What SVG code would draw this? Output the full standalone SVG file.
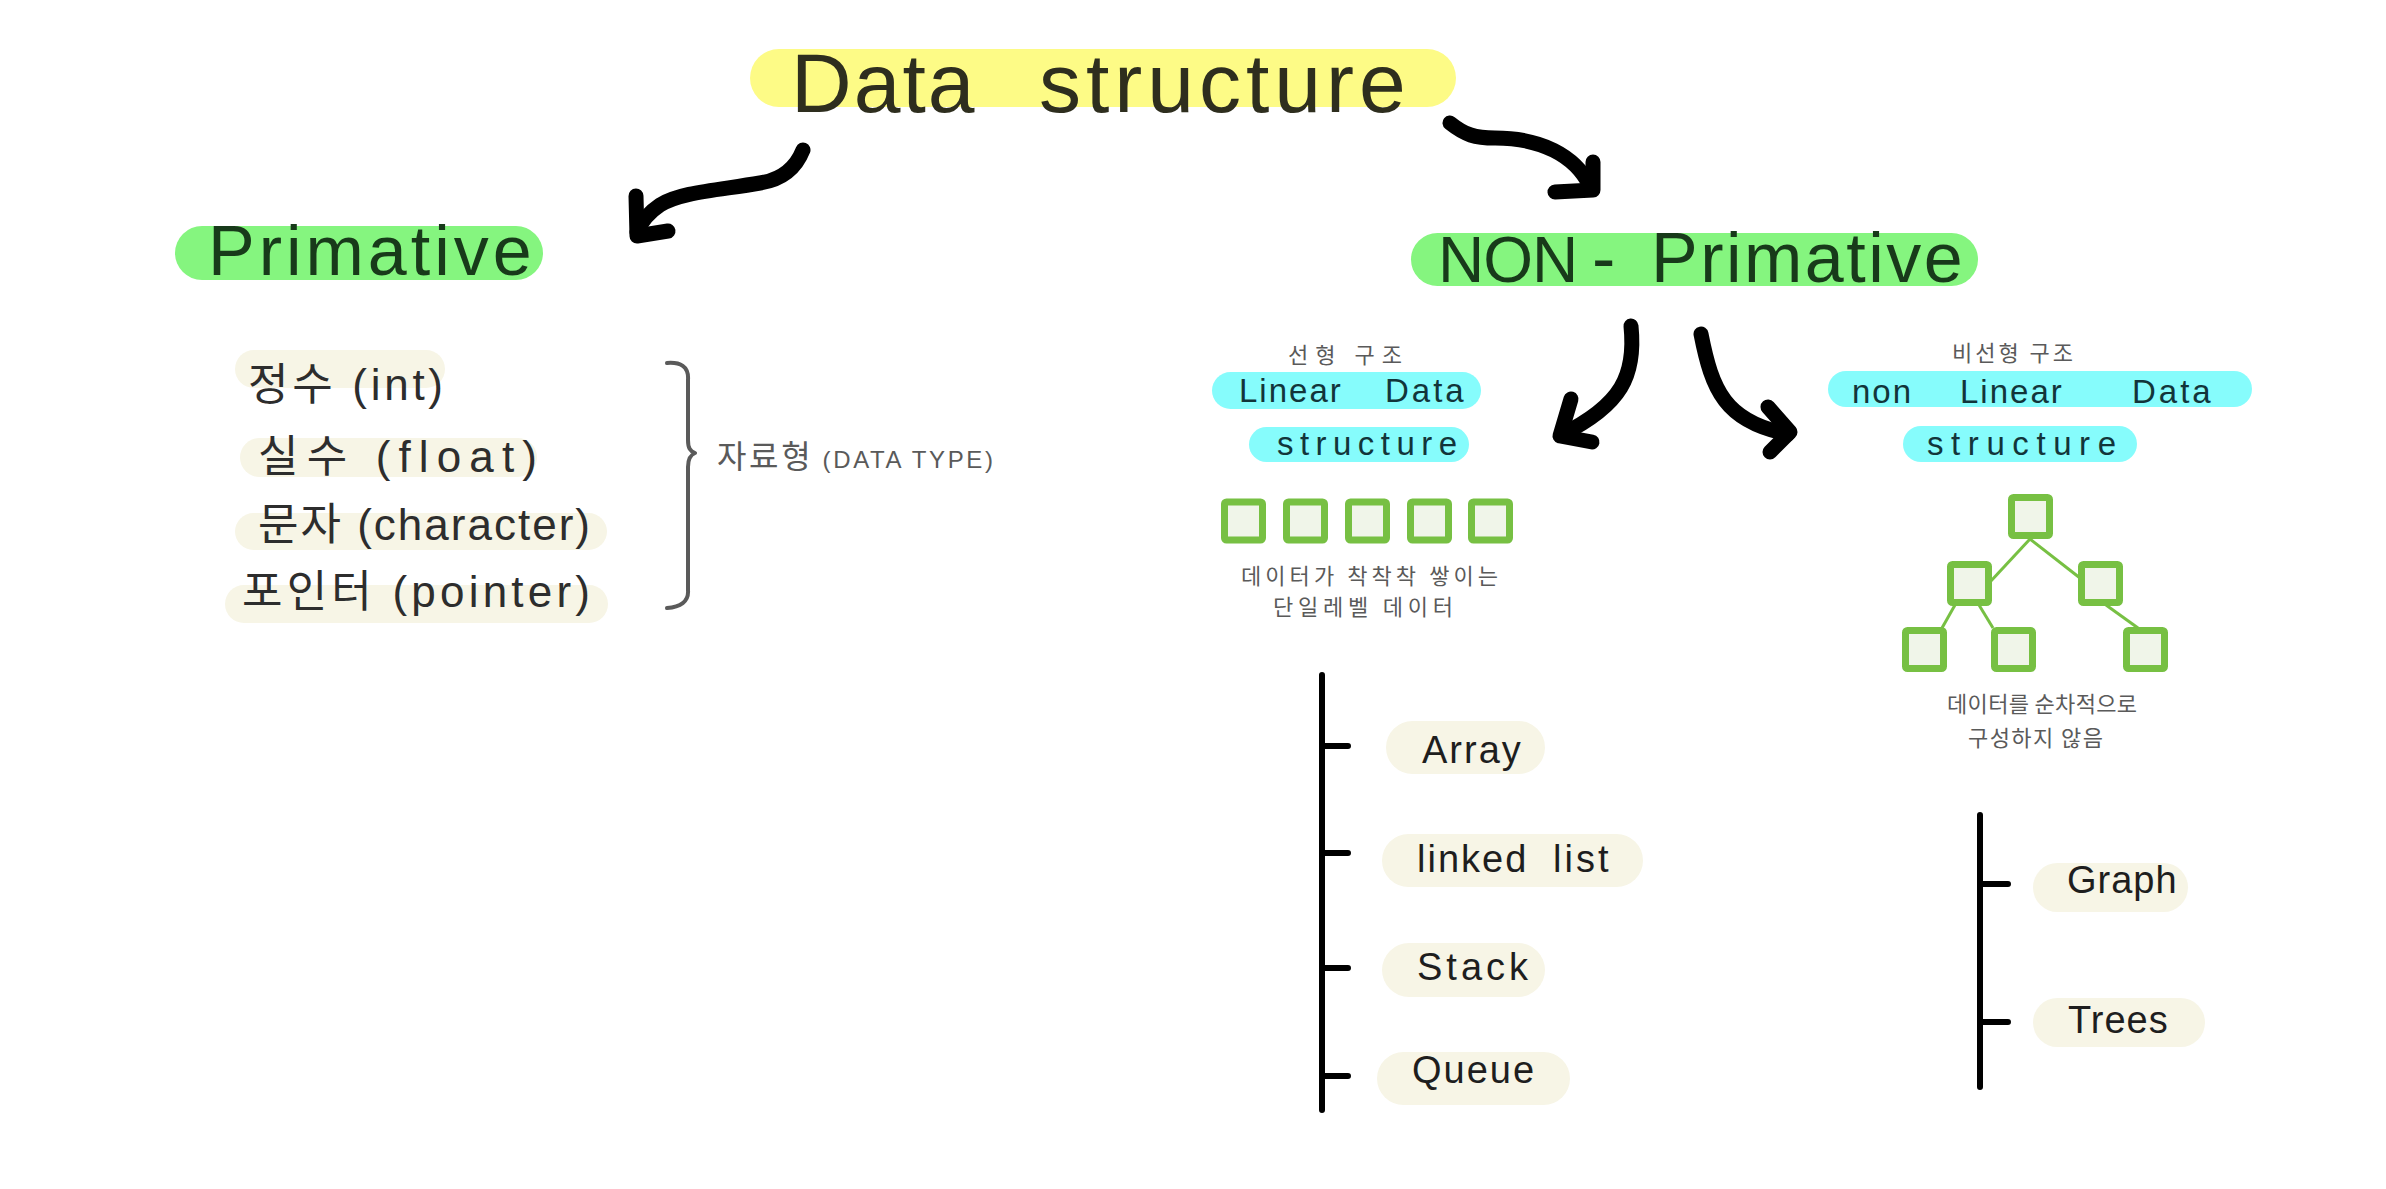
<svg xmlns="http://www.w3.org/2000/svg" width="2386" height="1189" viewBox="0 0 2386 1189">
<style>
.hand{font-family:"Liberation Sans","Noto Sans CJK KR",sans-serif;}
.kr{font-family:"Noto Sans CJK KR","Liberation Sans",sans-serif;}
.yellow{fill:#fdfb86;}
.green{fill:#85f57f;}
.cyan{fill:#86fcfc;}
.beige{fill:#f7f5e6;}
.t-title{fill:#2e2e1e;font-size:84px;}
.t-green{fill:#183a1a;font-size:70px;}
.t-cyan{fill:#12353a;font-size:33px;}
.t-item{fill:#1e1e1e;font-size:38px;}
.t-prim{fill:#2d2d2d;font-size:44px;}
.t-gray{fill:#5a5a5a;font-size:22px;}
.arrow{fill:none;stroke:#000;stroke-width:15;stroke-linecap:round;stroke-linejoin:round;}
.tree{fill:none;stroke:#000;stroke-width:6;stroke-linecap:round;}
.sq{fill:#f0f5e9;stroke:#77c043;stroke-width:7;}
.tl{stroke:#77c043;stroke-width:3;}
.brace{fill:none;stroke:#5a5a5a;stroke-width:4;stroke-linecap:round;stroke-linejoin:round;}
</style>

<g id="connectors">
  <path class="arrow" d="M803,150 C795,170 780,180 760,183 C720,190 680,192 660,205 C648,213 641,222 637,232"/>
  <path class="arrow" d="M636,196 L637,236 L668,231"/>
  <path class="arrow" d="M1450,123 C1465,135 1475,138 1495,138 C1540,138 1575,155 1590,186"/>
  <path class="arrow" d="M1593,162 L1593,190 L1555,192"/>
  <path class="arrow" d="M1631,326 C1636,375 1622,405 1561,435"/>
  <path class="arrow" d="M1571,399 L1560,436 L1592,442"/>
  <path class="arrow" d="M1701,334 C1712,390 1725,422 1788,434"/>
  <path class="arrow" d="M1768,407 L1790,432 L1770,452"/>
  <path class="brace" d="M667,363 C680,362 689,366 688,380 L688,440 C688,448 690,451 695,453 C690,455 688,459 688,467 L688,590 C689,602 680,607 667,608"/>
  <path class="tree" d="M1322,675 L1322,1110 M1322,746 L1348,746 M1322,853 L1348,853 M1322,968 L1348,968 M1322,1076 L1348,1076"/>
  <path class="tree" d="M1980,815 L1980,1087 M1980,884 L2008,884 M1980,1022 L2008,1022"/>
  <g id="tree-lines">
    <line class="tl" x1="2030" y1="539" x2="1990" y2="582"/>
    <line class="tl" x1="2030" y1="539" x2="2080" y2="578"/>
    <line class="tl" x1="1955" y1="605" x2="1942" y2="628"/>
    <line class="tl" x1="1979" y1="605" x2="1993" y2="628"/>
    <line class="tl" x1="2106" y1="605" x2="2138" y2="628"/>
  </g>
</g>

<g id="node-title">
  <rect class="yellow" x="750" y="49" width="706" height="58" rx="29"/>
  <text class="hand t-title" y="112"><tspan x="791" letter-spacing="2">Data</tspan><tspan x="1039" letter-spacing="5">structure</tspan></text>
</g>

<g id="node-primitive">
  <rect class="green" x="175" y="226" width="368" height="54" rx="27"/>
  <text class="hand t-green" x="208" y="275" letter-spacing="4">Primative</text>
</g>

<g id="node-non-primitive">
  <rect class="green" x="1411" y="233" width="567" height="53" rx="26.5"/>
  <text class="hand t-green" y="282"><tspan x="1438" font-size="64" letter-spacing="-1">NON</tspan><tspan x="1592">-</tspan><tspan x="1651" letter-spacing="2.5">Primative</tspan></text>
</g>

<g id="node-primitive-types">
  <rect class="beige" x="235" y="350" width="210" height="38" rx="19"/>
  <rect class="beige" x="240" y="438" width="297" height="39" rx="19.5"/>
  <rect class="beige" x="235" y="513" width="372" height="37" rx="18.5"/>
  <rect class="beige" x="225" y="585" width="383" height="38" rx="19"/>
  <text class="hand t-prim" x="248" y="400" textLength="195">정수 (int)</text>
  <text class="hand t-prim" x="258" y="472" textLength="279">실수 (float)</text>
  <text class="hand t-prim" x="258" y="540" textLength="332">문자 (character)</text>
  <text class="hand t-prim" x="242" y="607" textLength="348">포인터 (pointer)</text>
</g>

<g id="node-data-type">
  <text class="hand" x="717" y="468" fill="#5a5a5a" textLength="276"><tspan font-size="32">자료형</tspan><tspan font-size="24"> (DATA TYPE)</tspan></text>
</g>

<g id="node-linear">
  <text class="kr t-gray" x="1288" y="363" textLength="114">선형 구조</text>
  <rect class="cyan" x="1212" y="372" width="269" height="37" rx="18.5"/>
  <rect class="cyan" x="1249" y="427" width="220" height="35" rx="17.5"/>
  <text class="hand t-cyan" y="402"><tspan x="1239" letter-spacing="2">Linear</tspan><tspan x="1385" letter-spacing="3">Data</tspan></text>
  <text class="hand t-cyan" x="1277" y="455" font-size="36" textLength="180">structure</text>
  <rect class="sq" x="1224.5" y="502" width="38" height="38" rx="2"/>
  <rect class="sq" x="1286.5" y="502" width="38" height="38" rx="2"/>
  <rect class="sq" x="1348.5" y="502" width="38" height="38" rx="2"/>
  <rect class="sq" x="1410.5" y="502" width="38" height="38" rx="2"/>
  <rect class="sq" x="1471.5" y="502" width="38" height="38" rx="2"/>
  <text class="kr t-gray" x="1241" y="584" textLength="257">데이터가 착착착 쌓이는</text>
  <text class="kr t-gray" x="1273" y="615" textLength="180">단일레벨 데이터</text>
</g>

<g id="node-nonlinear">
  <text class="kr t-gray" x="1952" y="361" textLength="121">비선형 구조</text>
  <rect class="cyan" x="1828" y="371" width="424" height="36" rx="18"/>
  <rect class="cyan" x="1903" y="426" width="234" height="36" rx="18"/>
  <text class="hand t-cyan" y="403" font-size="35"><tspan x="1852" letter-spacing="2">non</tspan><tspan x="1960" letter-spacing="2">Linear</tspan><tspan x="2132" letter-spacing="3">Data</tspan></text>
  <text class="hand t-cyan" x="1927" y="455" font-size="36" textLength="189">structure</text>
  <rect class="sq" x="2011.5" y="497.5" width="38" height="38" rx="2"/>
  <rect class="sq" x="1950.5" y="564.5" width="38" height="38" rx="2"/>
  <rect class="sq" x="2081.5" y="564.5" width="38" height="38" rx="2"/>
  <rect class="sq" x="1905.5" y="630.5" width="38" height="38" rx="2"/>
  <rect class="sq" x="1994.5" y="630.5" width="38" height="38" rx="2"/>
  <rect class="sq" x="2126.5" y="630.5" width="38" height="38" rx="2"/>
  <text class="kr t-gray" x="1947" y="712" textLength="190">데이터를 순차적으로</text>
  <text class="kr t-gray" x="1968" y="746" textLength="135">구성하지 않음</text>
</g>

<g id="node-array">
  <rect class="beige" x="1386" y="721" width="159" height="53" rx="26.5"/>
  <text class="hand t-item" x="1422" y="763" letter-spacing="2">Array</text>
</g>
<g id="node-linked-list">
  <rect class="beige" x="1382" y="834" width="261" height="53" rx="26.5"/>
  <text class="hand t-item" y="872"><tspan x="1417" letter-spacing="2">linked</tspan><tspan x="1553" letter-spacing="3">list</tspan></text>
</g>
<g id="node-stack">
  <rect class="beige" x="1382" y="943" width="163" height="54" rx="27"/>
  <text class="hand t-item" x="1417" y="980" letter-spacing="4">Stack</text>
</g>
<g id="node-queue">
  <rect class="beige" x="1377" y="1052" width="193" height="53" rx="26.5"/>
  <text class="hand t-item" x="1412" y="1083" letter-spacing="2">Queue</text>
</g>
<g id="node-graph">
  <rect class="beige" x="2033" y="863" width="155" height="49" rx="24.5"/>
  <text class="hand t-item" x="2067" y="893" font-size="32" letter-spacing="1">Graph</text>
</g>
<g id="node-trees">
  <rect class="beige" x="2033" y="998" width="172" height="49" rx="24.5"/>
  <text class="hand t-item" x="2068" y="1033" font-size="34" letter-spacing="1">Trees</text>
</g>
</svg>
